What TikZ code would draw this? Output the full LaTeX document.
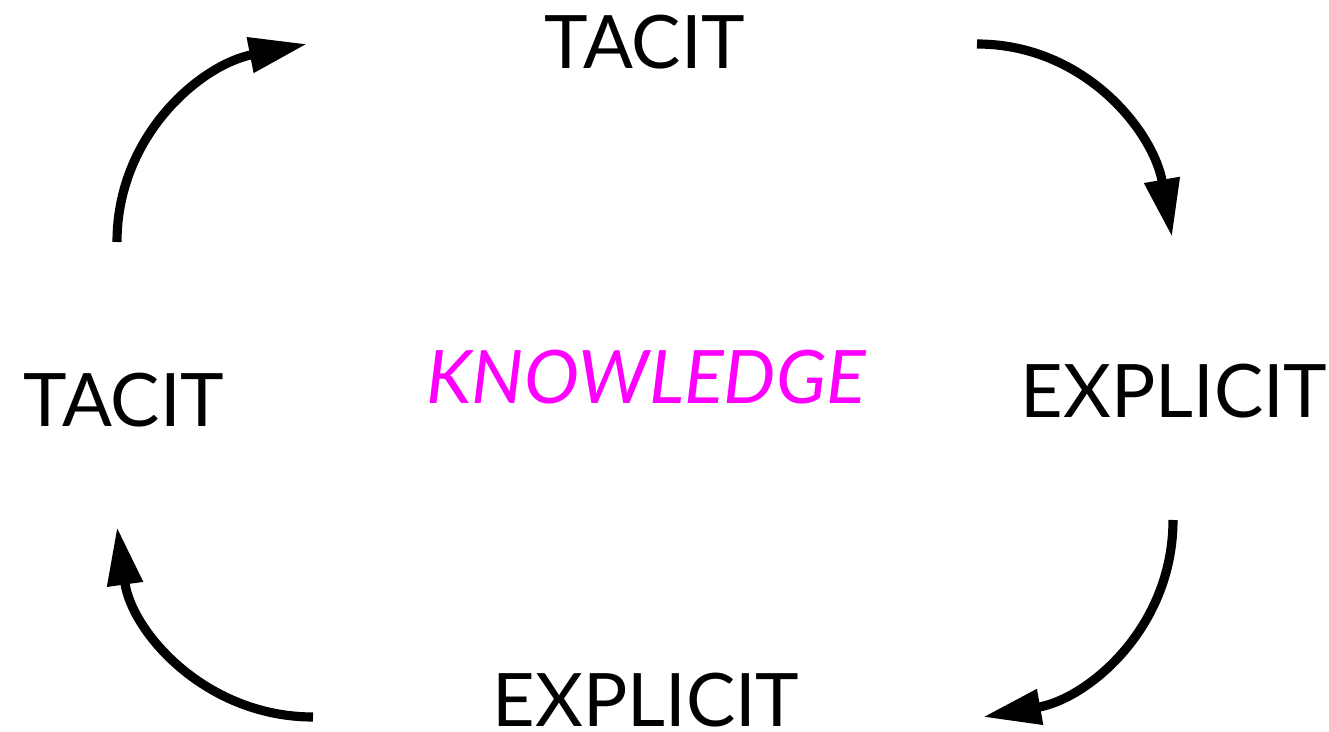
\documentclass[tikz,border=0pt]{standalone}
\usepackage{fontspec}
\setmainfont{Lato}
\usetikzlibrary{arrows.meta}
\definecolor{knowmag}{RGB}{255,0,255}

\begin{document}
\begin{tikzpicture}[x=0.02cm, y=0.02cm,
        lbl/.style={font=\fontsize{42}{42}\selectfont, inner sep=0pt},
        cyclearrow/.style={line width=5.2pt, -{Triangle[length=1.16cm, width=0.68cm]}}]
        \useasboundingbox (0,0) rectangle (1329,731);

        % Labels
        \node[lbl] (tacittop) at (645, 689) {TACIT};
        \node[lbl] (tacitleft) at (124, 331) {TACIT};
        \node[lbl] (explright) at (1174, 340) {EXPLICIT};
        \node[lbl] (explbot) at (646, 31) {EXPLICIT};
        \node[lbl, text=knowmag, font=\fontsize{42}{42}\selectfont\itshape] (know) at (646, 354) {KNOWLEDGE};

        % Arrow ends
        \coordinate (a1s) at (117, 489); \coordinate (a1e) at (307, 687);
        \coordinate (a2s) at (977, 687); \coordinate (a2e) at (1172, 494);
        \coordinate (a3s) at (1173, 211); \coordinate (a3e) at (983, 14);
        \coordinate (a4s) at (313, 14); \coordinate (a4e) at (117, 204);

        % Arrows
        \draw[cyclearrow] (a1s) to[out=90, in=191] (a1e);
        \draw[cyclearrow] (a2s) to[out=0, in=100] (a2e);
        \draw[cyclearrow] (a3s) to[out=-90, in=10] (a3e);
        \draw[cyclearrow] (a4s) to[out=180, in=-82] (a4e);
\end{tikzpicture}
\end{document}
